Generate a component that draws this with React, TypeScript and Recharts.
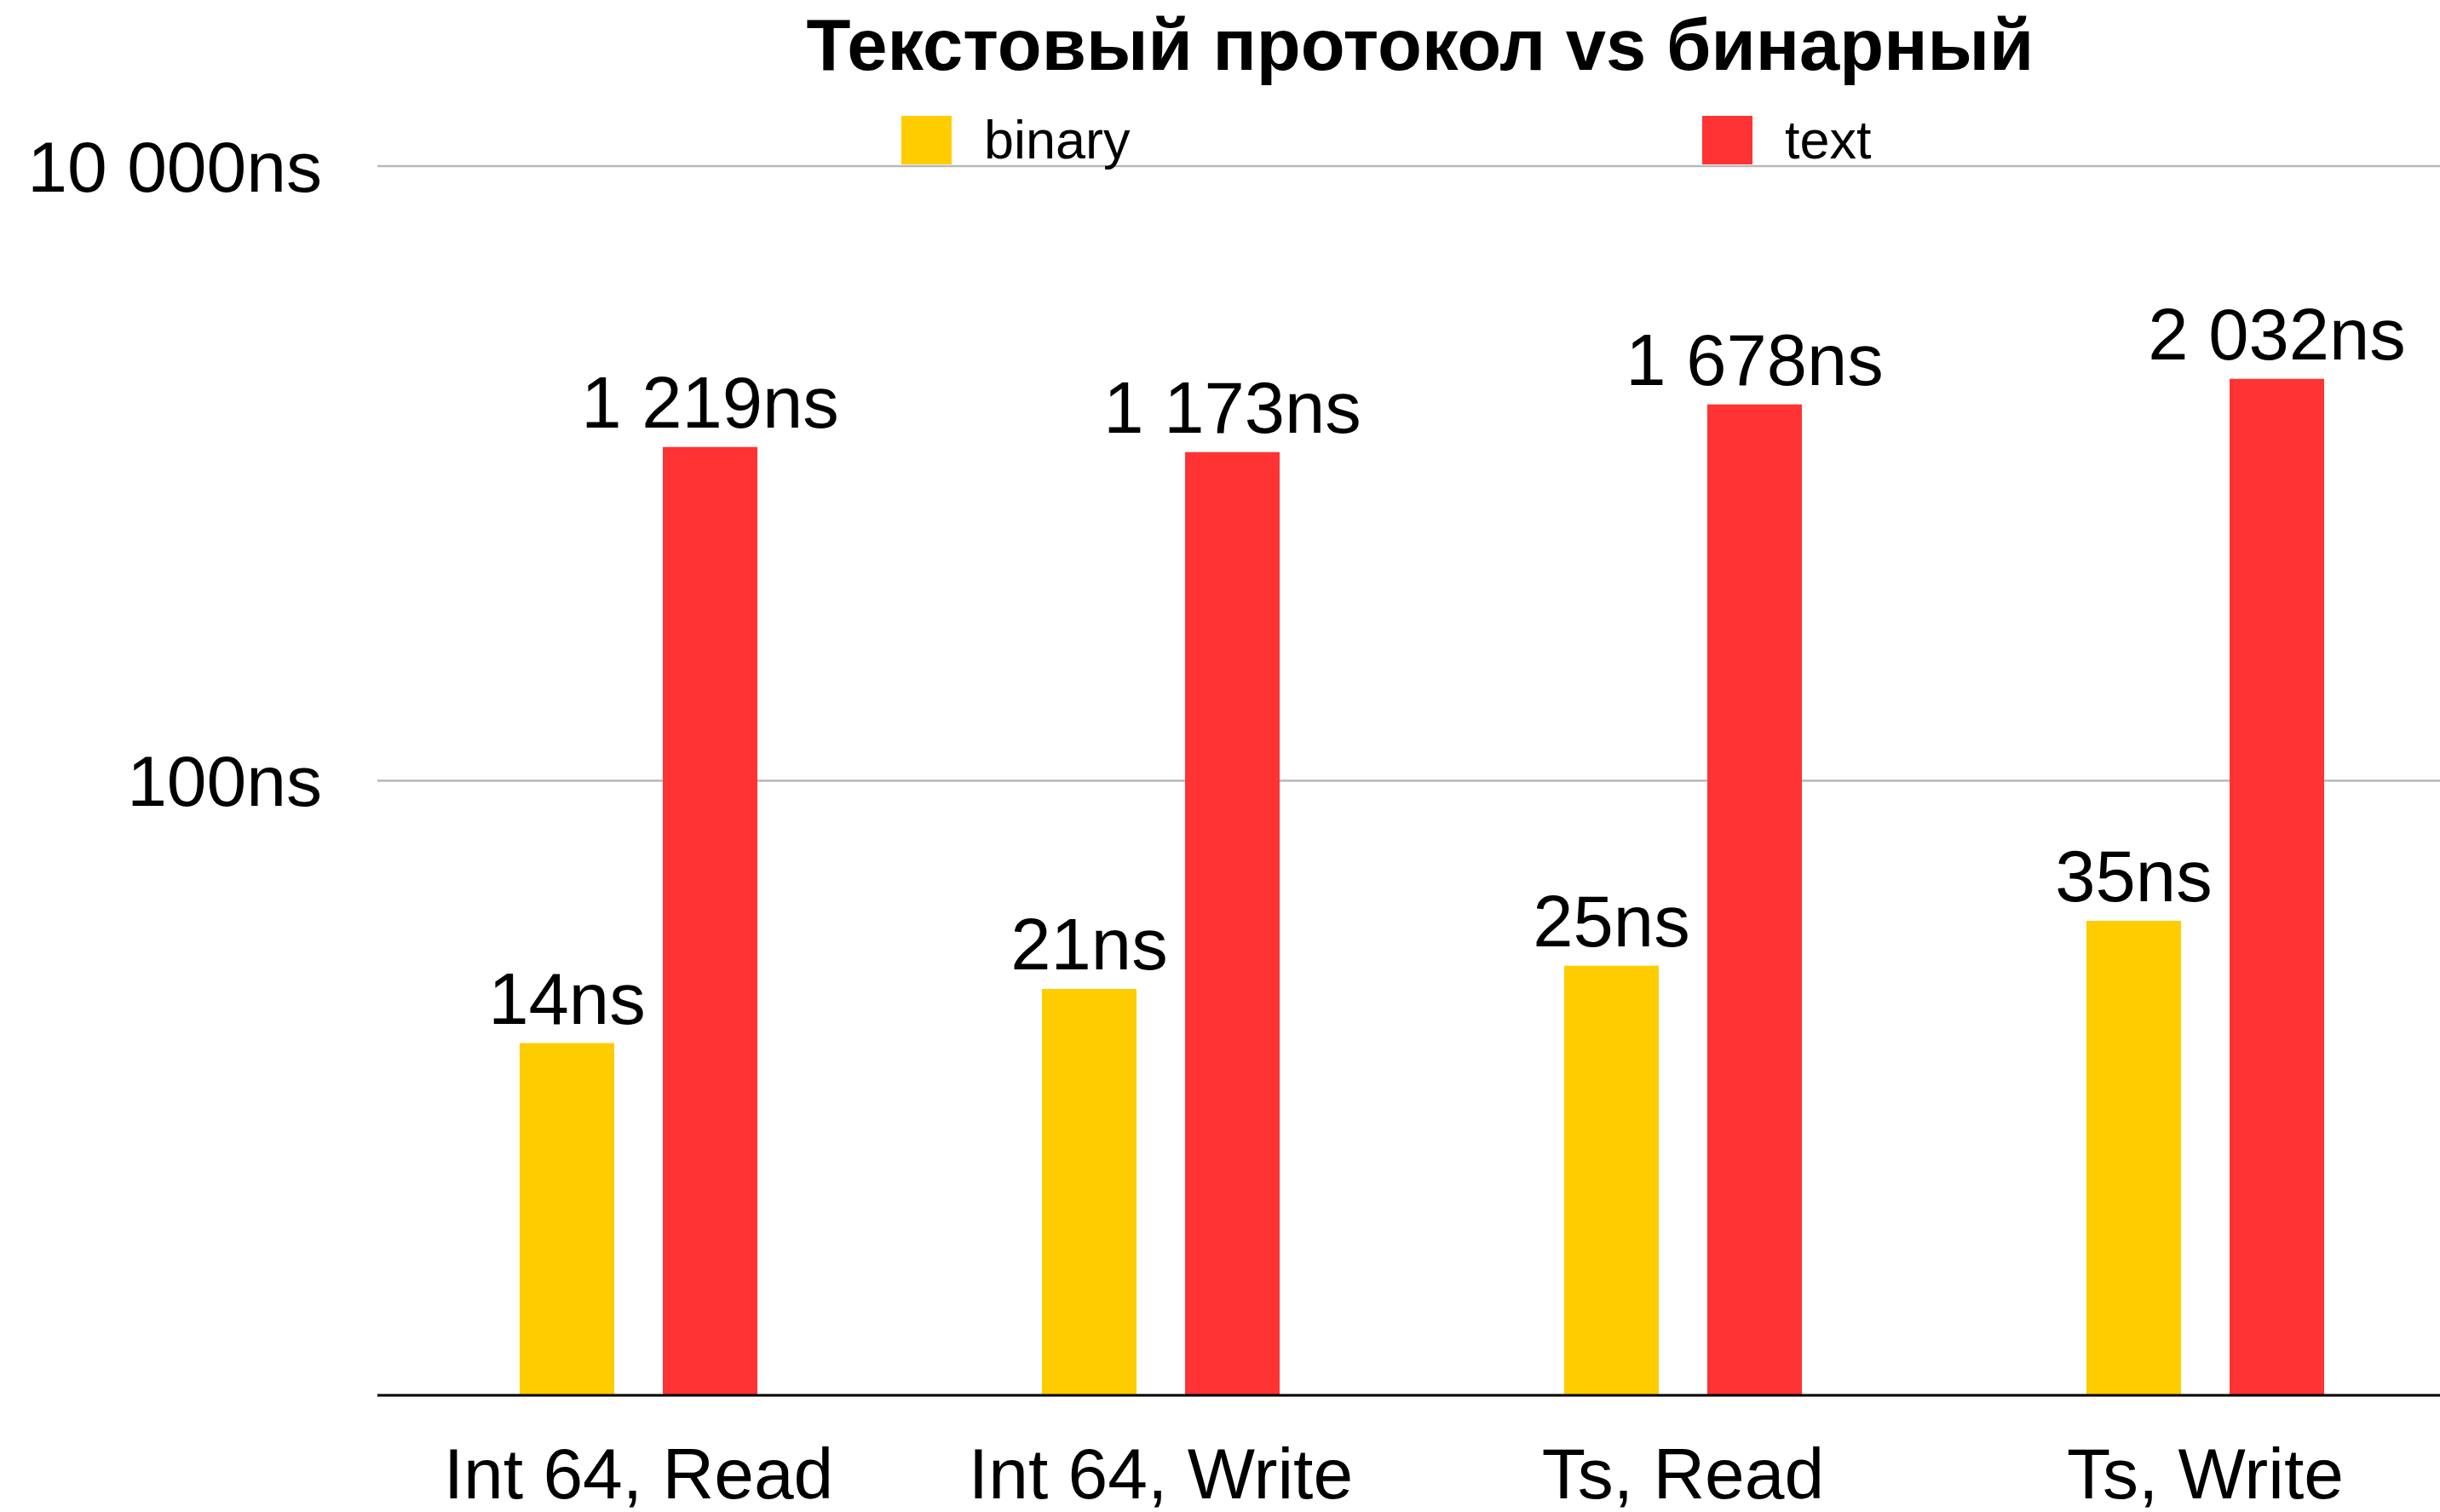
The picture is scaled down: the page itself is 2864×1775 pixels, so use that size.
import React from "react";
import { BarChart, Bar, XAxis, YAxis, CartesianGrid, Legend, LabelList } from "recharts";

const categories = ["Int 64, Read", "Int 64, Write", "Ts, Read", "Ts, Write"];
const binaryValues = [14, 21, 25, 35];
const textValues = [1219, 1173, 1678, 2032];
const yTicks = [100, 10000];
const title = "Текстовый протокол vs бинарный";
const seriesNames = { binary: "binary", text: "text" };
const colors = { binary: "#ffcc00", text: "#ff3333" };

const data = categories.map((c, i) => ({
  name: c,
  binary: binaryValues[i],
  text: textValues[i],
}));

const fmt = (v: any) =>
  String(v).replace(/\B(?=(\d{3})+(?!\d))/g, " ") + "ns";

const LegendContent = (props: any) => {
  const payload = props.payload || [];
  return (
    <div style={{ display: "flex", alignItems: "center", margin: 0, padding: 0 }}>
      {payload.map((entry: any, i: number) => (
        <div
          key={i}
          style={{
            display: "flex",
            alignItems: "center",
            width: i === 0 ? 940 : 300,
          }}
        >
          <div
            style={{
              width: 59,
              height: 57,
              background: entry.color,
              marginRight: 38,
            }}
          />
          <span style={{ fontSize: 63, lineHeight: "57px", color: "#000" }}>
            {entry.value}
          </span>
        </div>
      ))}
    </div>
  );
};

export default function App() {
  return (
    <div
      style={{
        position: "absolute",
        left: 0,
        top: 0,
        width: 2864,
        height: 1775,
        overflow: "hidden",
        background: "#fff",
        fontFamily: "'Liberation Sans', Arial, sans-serif",
      }}
    >
      <div
        style={{
          position: "absolute",
          left: 1667 - 1000,
          width: 2000,
          top: 10,
          textAlign: "center",
          fontSize: 85,
          lineHeight: "85px",
          fontWeight: "bold",
          color: "#000",
          zIndex: 2,
        }}
      >
        {title}
      </div>
      <BarChart
        width={2900}
        height={1775}
        data={data}
        margin={{ top: 195, right: 5, left: 0, bottom: 0 }}
        barGap={57}
        barSize={111}
      >
        <CartesianGrid
          horizontal={true}
          vertical={false}
          stroke="#b7b7b7"
          strokeWidth={2.5}
        />
        <XAxis
          dataKey="name"
          height={137}
          interval={0}
          tickLine={false}
          tickSize={0}
          tickMargin={61}
          axisLine={{ stroke: "#000", strokeWidth: 3 }}
          tick={{ fontSize: 84, fill: "#000" }}
        />
        <YAxis
          scale="log"
          type="number"
          domain={[1, 10000]}
          allowDataOverflow
          ticks={yTicks}
          width={443}
          tickLine={false}
          tickSize={0}
          tickMargin={65}
          axisLine={false}
          tickFormatter={fmt}
          tick={{ fontSize: 84, fill: "#000" }}
        />
        <Legend
          layout="horizontal"
          verticalAlign="middle"
          align="center"
          wrapperStyle={{ top: 136, left: 1058, width: 1300 }}
          content={<LegendContent />}
        />
        <Bar
          dataKey="binary"
          name={seriesNames.binary}
          fill={colors.binary}
          isAnimationActive={false}
        >
          <LabelList
            dataKey="binary"
            position="top"
            offset={23}
            formatter={fmt}
            style={{ fontSize: 85, fill: "#000" }}
          />
        </Bar>
        <Bar
          dataKey="text"
          name={seriesNames.text}
          fill={colors.text}
          isAnimationActive={false}
        >
          <LabelList
            dataKey="text"
            position="top"
            offset={23}
            formatter={fmt}
            style={{ fontSize: 85, fill: "#000" }}
          />
        </Bar>
      </BarChart>
    </div>
  );
}
